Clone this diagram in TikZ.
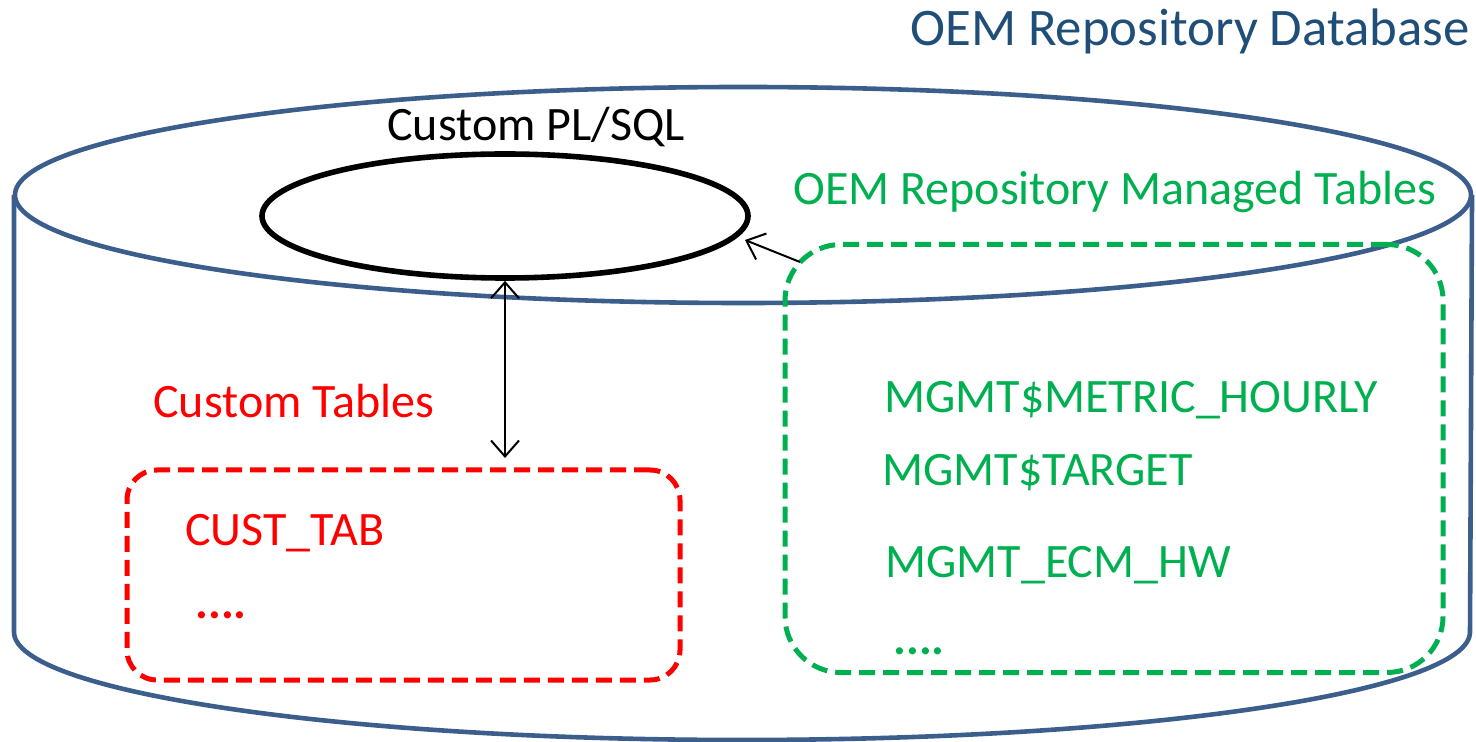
\documentclass[tikz,border=0pt]{standalone}
\usepackage{fontspec}
\setmainfont{Carlito}
\usetikzlibrary{positioning,shapes.geometric,arrows.meta}
\definecolor{dbblue}{RGB}{59,94,140}
\definecolor{titleblue}{RGB}{31,78,121}
\definecolor{mgreen}{RGB}{0,176,80}
\definecolor{cred}{RGB}{255,0,0}
\tikzset{
  dbline/.style={draw=dbblue, line width=2.3pt},
  tabbox/.style={line width=2.5pt, dash pattern=on 8pt off 4pt},
  lbl/.style={font=\fontsize{24}{29}\selectfont, inner sep=0pt},
  link/.style={black, line width=1pt},
  barb/.tip={Straight Barb[length=8pt,width=14pt]}
}

\begin{document}
\begin{tikzpicture}[x=0.5pt, y=-0.5pt]
    \useasboundingbox (0,0) rectangle (1476,742);
    % database cylinder
    \draw[dbline] (743,195) ellipse [x radius=364pt, y radius=54pt];
    \draw[dbline] (14,195) -- (14,632)
        arc[start angle=180, end angle=360, x radius=364pt, y radius=54pt] -- (1472,195);
    \node[lbl, text=titleblue, anchor=base east, font=\fontsize{26.4}{32}\selectfont] (dbtitle) at (1470,46) {OEM Repository Database};
    %
    \node[draw, line width=2.8pt, ellipse, minimum width=243pt, minimum height=62pt, inner sep=0pt] (plsql) at (505,216) {};
    \node[lbl, anchor=base west] (plsqllbl) at (387,141) {Custom PL/SQL};
    %
    \node[draw=cred, tabbox, rounded corners=15pt, minimum width=276.5pt, minimum height=105pt] (custbox) at (403.5,575) {};
    \node[lbl, text=cred, anchor=base west] (custlbl) at (153,418) {Custom Tables};
    \node[lbl, text=cred, anchor=base west] (custtab) at (185,545) {CUST\_TAB};
    \node[lbl, text=cred, anchor=base west] (custmore) at (195,618) {\textbf{....}};
    %
    \node[draw=mgreen, tabbox, rounded corners=28pt, minimum width=329pt, minimum height=214pt] (mgmtbox) at (1114,458.5) {};
    \node[lbl, text=mgreen, anchor=base west] (mgmtlbl) at (793,205) {OEM Repository Managed Tables};
    \node[lbl, text=mgreen, anchor=base west] (hourly) at (884,413) {MGMT\$METRIC\_HOURLY};
    \node[lbl, text=mgreen, anchor=base west] (target) at (882,486) {MGMT\$TARGET};
    \node[lbl, text=mgreen, anchor=base west] (ecmhw) at (885,577) {MGMT\_ECM\_HW};
    \node[lbl, text=mgreen, anchor=base west] (mgmtmore) at (893,654) {\textbf{....}};
    %
    \coordinate (custtop) at (505,458);
    \draw[link, barb-barb] (plsql.south) -- (custtop);
    \coordinate (mgmtcorner) at (800,262);
    \draw[link, -barb] (mgmtcorner) -- (745,240);
\end{tikzpicture}
\end{document}
